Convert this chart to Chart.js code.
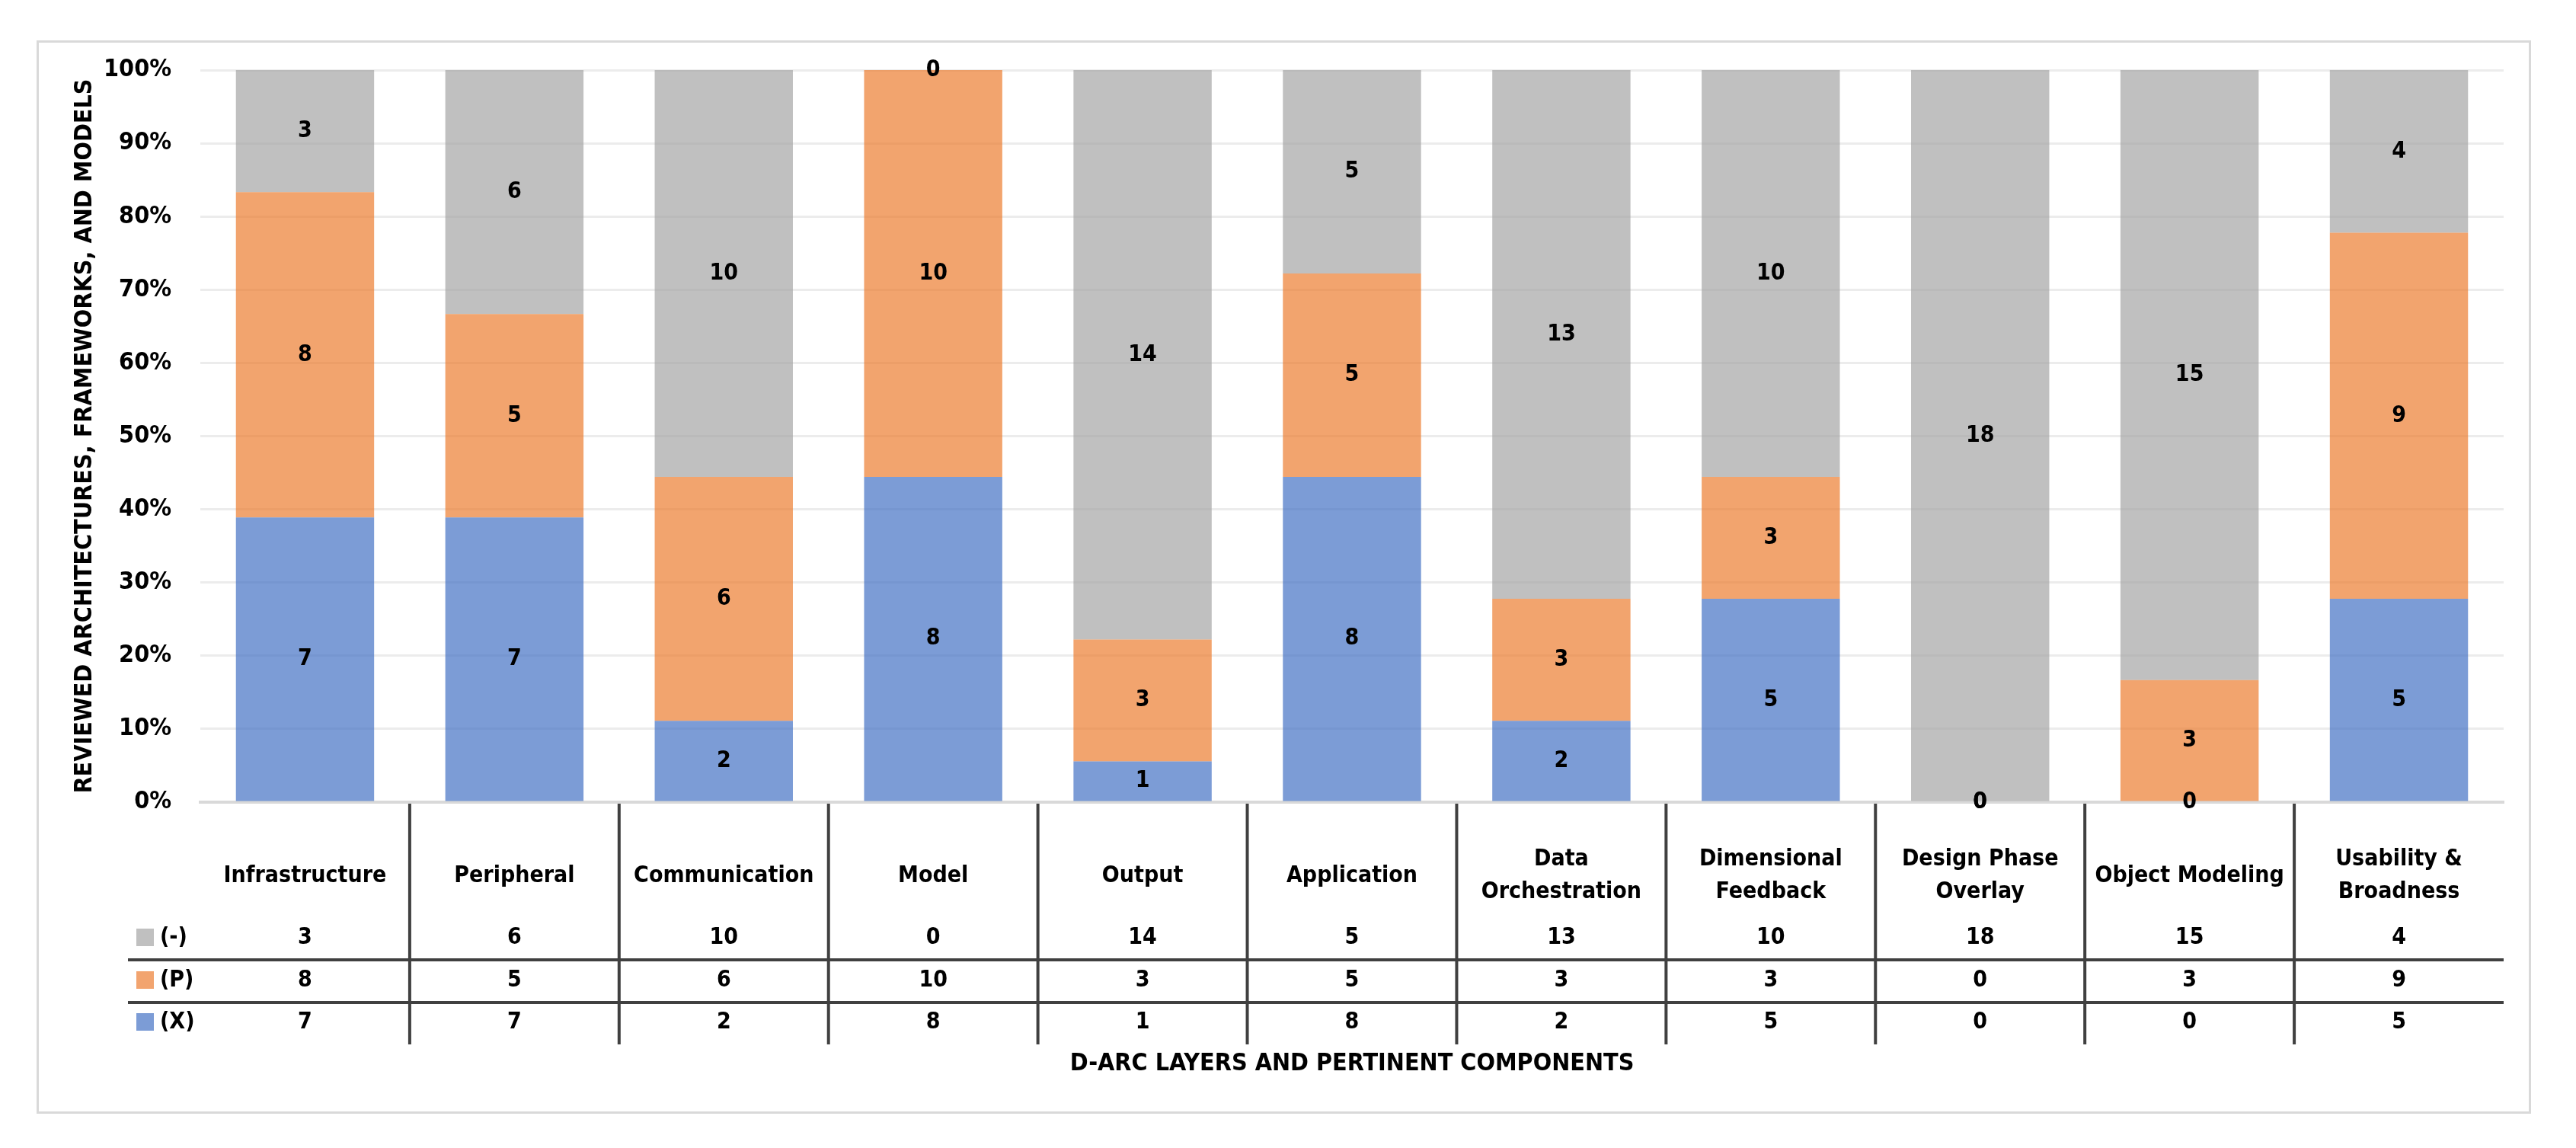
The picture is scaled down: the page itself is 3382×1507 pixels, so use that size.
<!DOCTYPE html>
<html>
<head>
<meta charset="utf-8">
<script src="https://cdn.jsdelivr.net/npm/chart.js@4.4.1/dist/chart.umd.min.js"></script>
<style>
  html, body { margin: 0; padding: 0; background: #fff; }
  #frame { position: absolute; left: 48px; top: 53px; width: 3275px; height: 1409px; box-sizing: border-box; border: 3px solid #d9d9d9; }
  #chart { position: absolute; left: 0; top: 0; }
</style>
</head>
<body>
<div id="frame"></div>
<canvas id="chart" width="3382" height="1507"></canvas>
<script>
// categories (multi-line labels as arrays)
const categories = [
  'Infrastructure', 'Peripheral', 'Communication', 'Model', 'Output', 'Application',
  ['Data', 'Orchestration'], ['Dimensional', 'Feedback'], ['Design Phase', 'Overlay'],
  'Object Modeling', ['Usability &', 'Broadness']
];
const xCounts    = [7, 7, 2, 8, 1, 8, 2, 5, 0, 0, 5];      // (X)
const pCounts    = [8, 5, 6, 10, 3, 5, 3, 3, 0, 3, 9];     // (P)
const dashCounts = [3, 6, 10, 0, 14, 5, 13, 10, 18, 15, 4]; // (-)
const seriesLabels = ['(X)', '(P)', '(-)'];

const FONT = "'Liberation Sans Narrow', 'Arial Narrow', 'DejaVu Sans Condensed', sans-serif";
const fills  = ['rgba(68,114,196,0.7)', 'rgba(237,125,49,0.7)', 'rgba(165,165,165,0.7)'];
const swatch = ['#7c9cd6', '#f2a46f', '#c0c0c0'];

const totals = categories.map((c, i) => xCounts[i] + pCounts[i] + dashCounts[i]);
const pct = arr => arr.map((v, i) => v / totals[i] * 100);
const counts = [xCounts, pCounts, dashCounts];

// value labels centred in each segment
const segmentLabels = {
  id: 'segmentLabels',
  afterDatasetsDraw(chart) {
    const ctx = chart.ctx;
    ctx.save();
    ctx.font = 'bold 30px ' + FONT;
    ctx.fillStyle = '#000';
    ctx.textAlign = 'center';
    ctx.textBaseline = 'middle';
    chart.data.datasets.forEach((ds, d) => {
      chart.getDatasetMeta(d).data.forEach((bar, i) => {
        const { x, y, base } = bar.getProps(['x', 'y', 'base'], true);
        ctx.fillText(counts[d][i], x, (y + base) / 2);
      });
    });
    ctx.restore();
  }
};

// data table under the plot
const dataTable = {
  id: 'dataTable',
  afterDraw(chart) {
    const { ctx, chartArea, scales: { x } } = chart;
    const rowY = [1231, 1287, 1342];
    const rows = [2, 1, 0]; // (-), (P), (X)
    ctx.save();
    ctx.strokeStyle = '#404040';
    ctx.lineWidth = 4;
    ctx.beginPath();
    for (let i = 1; i < categories.length; i++) {
      const bx = (x.getPixelForValue(i - 1) + x.getPixelForValue(i)) / 2;
      ctx.moveTo(bx, chartArea.bottom + 2);
      ctx.lineTo(bx, 1371);
    }
    [1260, 1316].forEach(y => { ctx.moveTo(168, y); ctx.lineTo(chartArea.right, y); });
    ctx.stroke();

    ctx.font = 'bold 30px ' + FONT;
    ctx.fillStyle = '#000';
    ctx.textAlign = 'center';
    ctx.textBaseline = 'middle';
    categories.forEach((c, i) => {
      const lines = Array.isArray(c) ? c : [c];
      const cx = x.getPixelForValue(i);
      lines.forEach((t, k) => ctx.fillText(t, cx, 1150 + (k - (lines.length - 1) / 2) * 43));
      rows.forEach((s, r) => ctx.fillText(counts[s][i], cx, rowY[r]));
    });

    rows.forEach((s, r) => {
      ctx.fillStyle = swatch[s];
      ctx.fillRect(179, rowY[r] - 12, 23, 23);
      ctx.fillStyle = '#000';
      ctx.textAlign = 'left';
      ctx.fillText(seriesLabels[s], 210, rowY[r]);
    });
    ctx.restore();
  }
};

new Chart(document.getElementById('chart'), {
  type: 'bar',
  data: {
    labels: categories,
    datasets: seriesLabels.map((name, s) => ({
      label: name,
      data: pct(counts[s]),
      backgroundColor: fills[s],
      borderWidth: 0,
      barPercentage: 0.66,
      categoryPercentage: 1.0
    }))
  },
  options: {
    responsive: false,
    devicePixelRatio: 1,
    animation: false,
    layout: { padding: { left: 60, right: 95, top: 92, bottom: 80 } },
    plugins: { legend: { display: false }, tooltip: { enabled: false } },
    scales: {
      x: {
        stacked: true,
        grid: { display: false },
        border: { display: true, color: '#d9d9d9', width: 4 },
        ticks: { display: false },
        title: {
          display: true,
          text: 'D-ARC LAYERS AND PERTINENT COMPONENTS',
          color: '#000',
          font: { family: FONT, size: 32, weight: 'bold' },
          padding: { top: 0, bottom: 11 }
        },
        afterFit: s => { s.height = 374; }
      },
      y: {
        stacked: true,
        min: 0,
        max: 100,
        grid: { color: '#ececec', lineWidth: 3, drawTicks: false },
        border: { display: false },
        ticks: {
          stepSize: 10,
          padding: 38,
          color: '#000',
          font: { family: FONT, size: 32, weight: 'bold' },
          callback: v => v + '%'
        },
        title: {
          display: true,
          text: 'REVIEWED ARCHITECTURES, FRAMEWORKS, AND MODELS',
          color: '#000',
          font: { family: FONT, size: 32, weight: 'bold' },
          padding: { top: 32, bottom: 0 }
        },
        afterFit: s => { s.width = 203; }
      }
    }
  },
  plugins: [segmentLabels, dataTable]
});
</script>
</body>
</html>
